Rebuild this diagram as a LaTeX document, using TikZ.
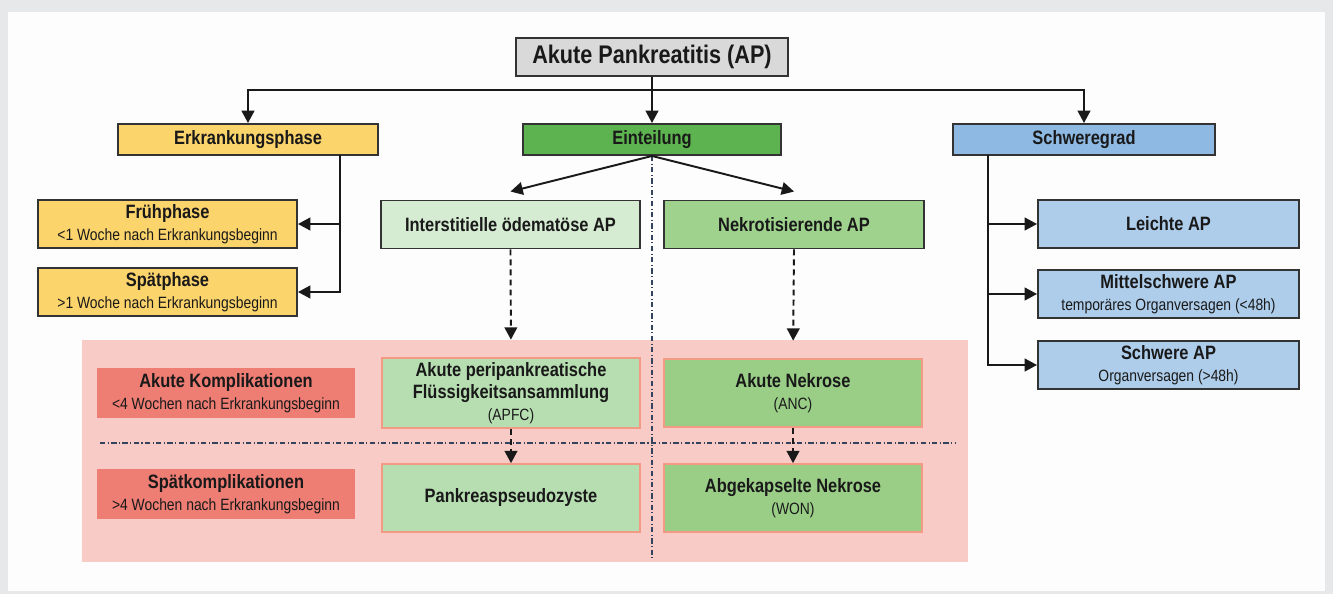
\documentclass[tikz,border=0pt]{standalone}
\usepackage{fontspec}
\setmainfont{Liberation Sans}[FakeStretch=0.85]
\usetikzlibrary{positioning,arrows.meta}
\definecolor{bggray}{HTML}{E7E8EA}
\definecolor{panel}{HTML}{FDFDFE}
\definecolor{topgray}{HTML}{D9D9D9}
\definecolor{gelb}{HTML}{FCD46C}
\definecolor{gruen}{HTML}{5DB34F}
\definecolor{hellgruen}{HTML}{D6ECD2}
\definecolor{mittelgruen}{HTML}{9ED28D}
\definecolor{blau}{HTML}{8DB9E3}
\definecolor{hellblau}{HTML}{AECDEB}
\definecolor{rosa}{HTML}{F9CBC6}
\definecolor{rot}{HTML}{EE7D74}
\definecolor{apfcgruen}{HTML}{B7DEB1}
\definecolor{ancgruen}{HTML}{9ACE87}
\definecolor{lachs}{HTML}{F39A85}
\definecolor{trenn}{HTML}{34435E}
\tikzset{
  box/.style 2 args={minimum width=#1*0.02cm, minimum height=#2*0.02cm, inner sep=0pt,
    align=center, text=black!90, font=\fontsize{11}{12.5}\selectfont\bfseries},
  kopf/.style={draw=black!80, line width=1.1pt},
  innen/.style={draw=lachs, line width=0.9pt},
  arr/.style={-{Triangle[length=7pt,width=7.2pt]}, line width=1.1pt, black!90},
  darr/.style={arr, dash pattern=on 3.4pt off 2.3pt},
  trennlinie/.style={trenn, line width=0.6pt, dash pattern=on 3pt off 1.4pt on 0.6pt off 1.4pt},
}
\newcommand{\unter}[1]{\\[0pt]{\fontsize{9.3}{10.5}\selectfont\mdseries #1}}
\begin{document}
\begin{tikzpicture}[x=0.02cm, y=-0.02cm]
\useasboundingbox (0,0) rectangle (1333,594);
\fill[bggray] (0,0) rectangle (1333,594);
\fill[panel] (8,12) rectangle (1325,591);
\fill[rosa] (82,340) rectangle (968,562);

% Kopf
\node (ap) [box={272}{38}, kopf, fill=topgray, font=\fontsize{14.5}{16}\selectfont\bfseries] at (652,57) {Akute Pankreatitis (AP)};
\node (phase) [box={260}{31}, kopf, fill=gelb] at (248,139.5) {Erkrankungsphase};
\node (einteilung) [box={258}{31}, kopf, fill=gruen] at (652,139.5) {Einteilung};
\node (schwere) [box={262}{31}, kopf, fill=blau] at (1084,139.5) {Schweregrad};

% Erkrankungsphase
\node (frueh) [box={259}{48}, kopf, fill=gelb] at (167.5,224) {Frühphase\unter{<1 Woche nach Erkrankungsbeginn}};
\node (spaet) [box={259}{48}, kopf, fill=gelb] at (167.5,292) {Spätphase\unter{>1 Woche nach Erkrankungsbeginn}};

% Einteilung
\node (inter) [box={259}{48}, kopf, fill=hellgruen] at (510.5,224.5) {Interstitielle ödematöse AP};
\node (nekro) [box={260}{48}, kopf, fill=mittelgruen] at (794,224.5) {Nekrotisierende AP};

% Schweregrad
\node (leicht) [box={261}{48}, kopf, fill=hellblau] at (1168.5,224) {Leichte AP};
\node (mittel) [box={261}{48}, kopf, fill=hellblau] at (1168.5,294) {Mittelschwere AP\unter{temporäres Organversagen (<48h)}};
\node (schwer) [box={261}{48}, kopf, fill=hellblau] at (1168.5,365) {Schwere AP\unter{Organversagen (>48h)}};

% Komplikationen
\node (akkompl) [box={258}{50}, fill=rot] at (226,393) {Akute Komplikationen\unter{<4 Wochen nach Erkrankungsbeginn}};
\node (spkompl) [box={258}{50}, fill=rot] at (226,494) {Spätkomplikationen\unter{>4 Wochen nach Erkrankungsbeginn}};
\node (apfc) [box={258}{70}, innen, fill=apfcgruen] at (511,393) {Akute peripankreatische\\Flüssigkeitsansammlung\unter{(APFC)}};
\node (pseudo) [box={258}{68}, innen, fill=apfcgruen] at (511,498) {Pankreaspseudozyste};
\node (anc) [box={258}{68}, innen, fill=ancgruen] at (793,393) {Akute Nekrose\unter{(ANC)}};
\node (won) [box={258}{68}, innen, fill=ancgruen] at (793,498) {Abgekapselte Nekrose\unter{(WON)}};

% Trennlinien
\coordinate (vunten) at (652,558);
\coordinate (hlinks) at (100,443);
\coordinate (hrechts) at (955,443);
\draw[trennlinie] (einteilung.south) -- (vunten);
\draw[trennlinie] (hlinks) -- (hrechts);

% Verbindungen
\coordinate (split) at (652,90);
\coordinate (pk) at (340,155);
\coordinate (sk) at (988,155);
\path (inter.north) ++(0,-8) coordinate (interin);
\path (nekro.north) ++(0,-8) coordinate (nekroin);
\draw[arr] (ap.south) -- (einteilung.north);
\draw[arr] (split) -| (phase.north);
\draw[arr] (split) -| (schwere.north);
\draw[arr] (pk) |- (frueh.east);
\draw[arr] (pk) |- (spaet.east);
\draw[arr] (sk) |- (leicht.west);
\draw[arr] (sk) |- (mittel.west);
\draw[arr] (sk) |- (schwer.west);
\draw[arr] (einteilung.south) -- (interin);
\draw[arr] (einteilung.south) -- (nekroin);
\draw[darr, shorten >=10pt] (inter.south) -- (apfc.north);
\draw[darr, shorten >=10pt] (nekro.south) -- (anc.north);
\draw[darr] (apfc.south) -- (pseudo.north);
\draw[darr] (anc.south) -- (won.north);
\end{tikzpicture}
\end{document}
